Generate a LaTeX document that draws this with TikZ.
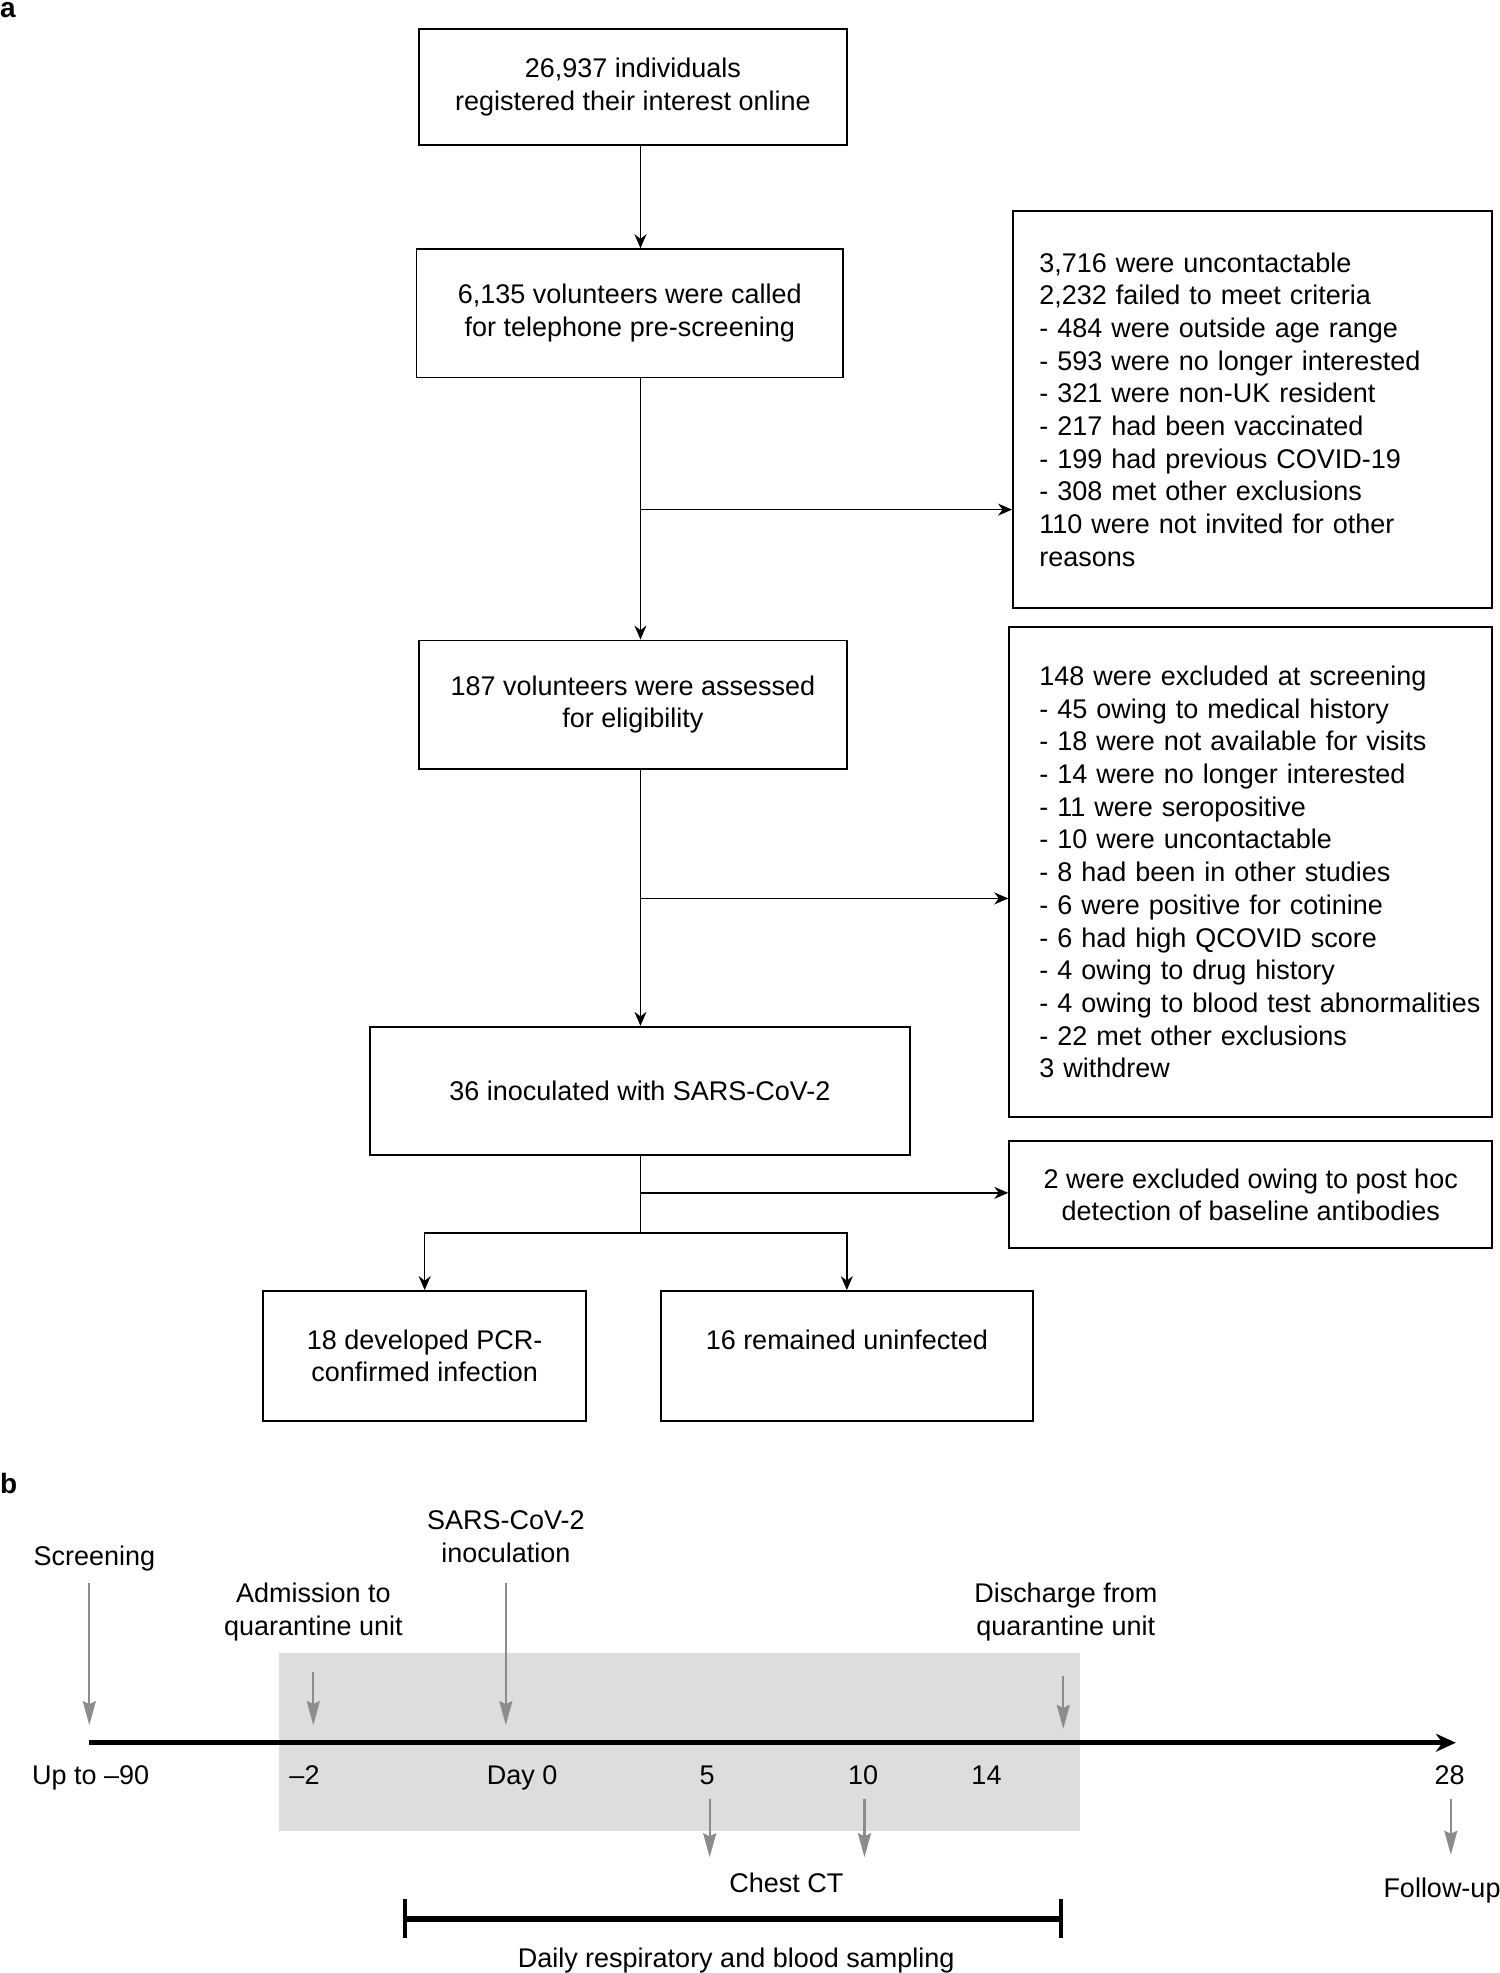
\documentclass[tikz,border=0pt]{standalone}
\usepackage{fontspec}
\setmainfont{Liberation Sans}
\usetikzlibrary{arrows.meta}
\definecolor{garrow}{HTML}{8C8C8C}
\definecolor{qshade}{HTML}{DCDDDF}
\begin{document}
\begin{tikzpicture}[x=1.2584pt,y=-1.2584pt,
  every node/.style={font=\fontsize{27pt}{32.7pt}\selectfont, inner sep=0pt},
  box/.style 2 args={draw, line width=1.8pt, align=center, minimum width=#1*1.2584*1pt, minimum height=#2*1.2584*1pt},
  rbox/.style={draw, line width=1.8pt, inner ysep=0pt, align=left},
  arr/.style={line width=1.6pt, -{Stealth[length=14pt,width=12pt]}},
  conn/.style={line width=1.6pt},
  garr/.style={draw=garrow, line width=2.2pt, -{Stealth[length=24pt,width=13pt,inset=3pt]}},
  plabel/.style={font=\bfseries\fontsize{28pt}{30pt}\selectfont, anchor=base west},
  lab/.style={anchor=base}
]
\useasboundingbox (0,0) rectangle (1192,1568);

% ---------- panel a ----------
\node[plabel] (la) at (0,14) {a};

\node[box={340}{92}] (b1) at (503,69) {26,937 individuals\\registered their interest online};
\node[box={339}{102}] (b2) at (500.5,249) {6,135 volunteers were called\\for telephone pre-screening};
\node[box={340}{102}] (b3) at (503,560) {187 volunteers were assessed\\for eligibility};
\node[box={429}{102}] (b4) at (508.5,867) {36 inoculated with SARS-CoV-2};
\node[box={257}{103}] (b5) at (337.5,1077.5) {18 developed PCR-\\confirmed infection};
\node[box={296}{103}] (b6) at (673,1077.5) {16 remained uninfected\\\mbox{}};

\node[rbox, text width=426.6pt, inner xsep=26.4pt, minimum height=396.4pt] (r1) at (995.5,325.5)
 {3,716 were uncontactable\\2,232 failed to meet criteria\\- 484 were outside age range\\- 593 were no longer interested\\- 321 were non-UK resident\\- 217 had been vaccinated\\- 199 had previous COVID-19\\- 308 met other exclusions\\110 were not invited for other\\reasons};
\node[rbox, text width=422.8pt, inner xsep=30.2pt, minimum height=490.8pt] (r2) at (994,693)
 {148 were excluded at screening\\- 45 owing to medical history\\- 18 were not available for visits\\- 14 were no longer interested\\- 11 were seropositive\\- 10 were uncontactable\\- 8 had been in other studies\\- 6 were positive for cotinine\\- 6 had high QCOVID score\\- 4 owing to drug history\\\mbox{- 4 owing to blood test abnormalities}\\- 22 met other exclusions\\3 withdrew};
\node[box={384}{85}] (r3) at (994,949.5) {2 were excluded owing to post hoc\\detection of baseline antibodies};

\coordinate (sp) at (509,0);
\coordinate (j1) at (509,405);
\coordinate (j2) at (509,714);
\coordinate (j3) at (509,948);
\coordinate (j4) at (509,980);

\draw[arr] (b1.south -| sp) -- (b2.north -| sp);
\draw[arr] (b2.south -| sp) -- (b3.north -| sp);
\draw[arr] (j1) -- (j1 -| r1.west);
\draw[arr] (b3.south -| sp) -- (b4.north -| sp);
\draw[arr] (j2) -- (j2 -| r2.west);
\draw[conn] (b4.south -| sp) -- (j4);
\draw[arr] (j3) -- (j3 -| r3.west);
\draw[arr] (j4) -| (b5.north);
\draw[arr] (j4) -| (b6.north);

% ---------- panel b ----------
\node[plabel] (lb) at (0,1187) {b};

\fill[qshade] (222,1314) rectangle (858,1455);

\node[lab] (tscr) at (75,1244) {Screening};
\node[align=center] (tadm) at (249,1281) {Admission to\\quarantine unit};
\node[align=center] (tino) at (402,1221) {SARS-CoV-2\\inoculation};
\node[align=center] (tdis) at (847,1281) {Discharge from\\quarantine unit};

\coordinate (tlA) at (71,1385);
\coordinate (tlB) at (1157,1385);
\draw[line width=5pt, -{Stealth[length=20pt,width=18pt]}] (tlA) -- (tlB);

\node[lab] (d90) at (72,1418) {Up to –90};
\node[lab] (dm2) at (242,1418) {–2};
\node[lab] (d0) at (415,1418) {Day 0};
\node[lab] (d5) at (562,1418) {5};
\node[lab] (d10) at (686,1418) {10};
\node[lab] (d14) at (784,1418) {14};
\node[lab] (d28) at (1152,1418) {28};

\coordinate (gs1) at (71,1258);   \coordinate (ge1) at (71,1371);
\coordinate (gs2) at (249,1329);  \coordinate (ge2) at (249,1371);
\coordinate (gs3) at (402,1258);  \coordinate (ge3) at (402,1371);
\coordinate (gs4) at (845,1332);  \coordinate (ge4) at (845,1374);
\coordinate (gs5) at (564,1430);  \coordinate (ge5) at (564,1476);
\coordinate (gs6) at (687,1430);  \coordinate (ge6) at (687,1476);
\coordinate (gs7) at (1153,1430); \coordinate (ge7) at (1153,1474);
\foreach \i in {1,...,7} { \draw[garr] (gs\i) -- (ge\i); }

\node[lab] (tct) at (625,1504) {Chest CT};
\node[lab] (tfu) at (1146,1508) {Follow-up};

\coordinate (brA) at (322,1525);
\coordinate (brB) at (843,1525);
\draw[line width=5.5pt] (brA) -- (brB);
\draw[line width=3.5pt] ([yshift=-19pt]brA) -- ([yshift=20pt]brA);
\draw[line width=3.5pt] ([yshift=-19pt]brB) -- ([yshift=20pt]brB);

\node[lab] (tdaily) at (585,1564) {Daily respiratory and blood sampling};
\end{tikzpicture}
\end{document}
